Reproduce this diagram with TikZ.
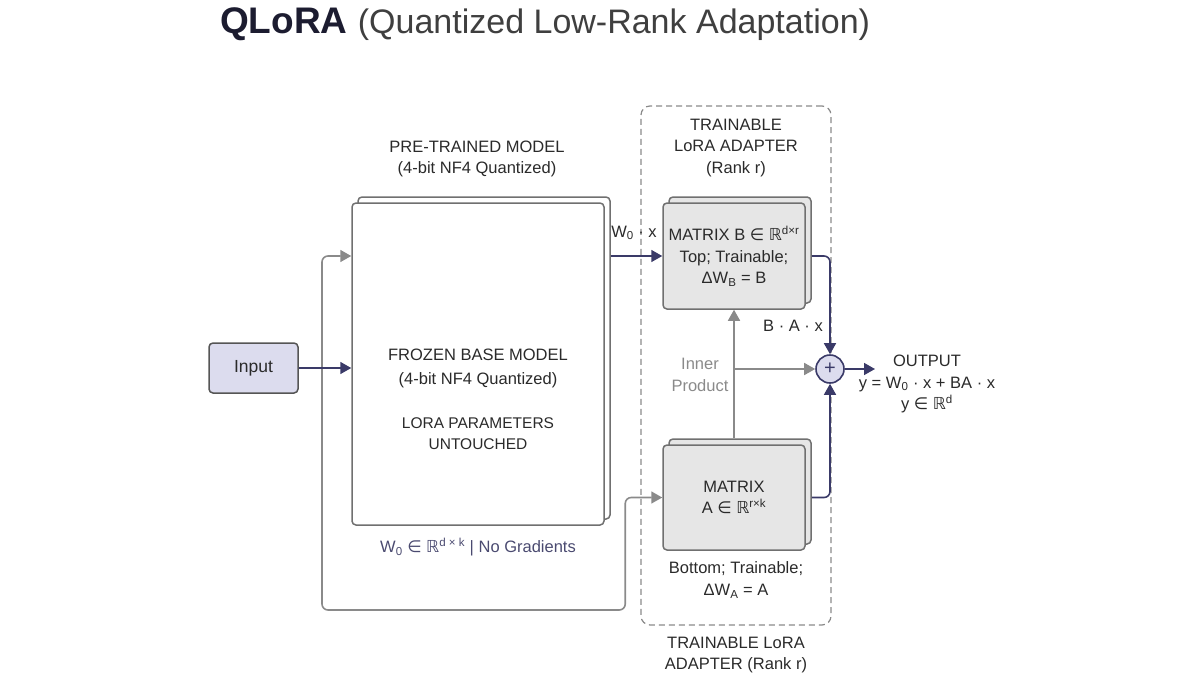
\documentclass[tikz,border=0pt]{standalone}
\usepackage{fontspec}
\setmainfont{Liberation Sans}
\newfontfamily\symf{DejaVu Sans}
\usetikzlibrary{arrows.meta,shadows}
\definecolor{navy}{HTML}{3A3A68}
\definecolor{titlenavy}{HTML}{1C1C30}
\definecolor{linegray}{HTML}{8A8A8A}
\definecolor{boxgray}{HTML}{707070}
\definecolor{lavender}{HTML}{DCDCEE}
\definecolor{matfill}{HTML}{E6E6E6}
\definecolor{textdark}{HTML}{2A2A2A}
\definecolor{softnavy}{HTML}{4A4A70}
\newcommand{\dsR}{{\symf ℝ}}
\newcommand{\elem}{{\symf ∈}}
\newcommand{\bodyfont}{\fontsize{16.5}{21.5}\selectfont}

\begin{document}
\begin{tikzpicture}[x=1pt,y=-1pt,
    every node/.style={text=textdark,font=\bodyfont,align=center},
    sheet/.style={draw=boxgray,line width=1.5pt,rounded corners=4pt,
      copy shadow={shadow xshift=6pt,shadow yshift=6pt}},
    matbox/.style={sheet,fill=matfill,minimum width=142pt,minimum height=106pt},
    navyarrow/.style={draw=navy,line width=1.6pt,rounded corners=6pt,
      -{Triangle[length=11pt,width=12pt]}},
    grayarrow/.style={draw=linegray,line width=1.6pt,rounded corners=6pt,
      -{Triangle[length=11pt,width=12pt]}}]
  \useasboundingbox (0,0) rectangle (1200,675);
  % title
  \node[anchor=base west,inner sep=0pt] (title) at (220,33)
    {\fontsize{37}{40}\selectfont\bfseries\color{titlenavy}QLoRA
     \fontsize{34}{40}\mdseries\color{textdark!90}(Quantized Low-Rank Adaptation)};
  % frozen model
  \node[draw=textdark!80,line width=1.5pt,fill=lavender,rounded corners=4pt,
    minimum width=89pt,minimum height=50pt,font=\fontsize{17.5}{21}\selectfont] (input) at (253.5,368) {Input};
  \node[sheet,fill=white,minimum width=252pt,minimum height=322pt] (frozen) at (478,364) {};
  \node (pretrained) at (477,159) {PRE-TRAINED MODEL\\(4-bit NF4 Quantized)};
  \node[font=\fontsize{16.5}{24}\selectfont] (frozentext) at (478,368)
    {FROZEN BASE MODEL\\(4-bit NF4 Quantized)};
  \node[font=\fontsize{15.5}{21}\selectfont] (untouched) at (478,434)
    {LORA PARAMETERS\\UNTOUCHED};
  \node[text=softnavy] (w0) at (478,547)
    {W\textsubscript{0} \elem\ \dsR\textsuperscript{d × k} | No Gradients};
  % adapter
  \node[draw=linegray,dash pattern=on 6pt off 4pt,line width=1.2pt,rounded corners=9pt,
    minimum width=190pt,minimum height=519pt] (adapter) at (736,365.5) {};
  \node (toplabel) at (736,148) {TRAINABLE\\LoRA ADAPTER\\(Rank r)};
  \node[matbox] (matB) at (734,256)
    {MATRIX B \elem\ \dsR\textsuperscript{d×r}\\Top; Trainable;\\ΔW\textsubscript{B} = B};
  \node[matbox,minimum height=105pt] (matA) at (734,497.5)
    {MATRIX\\A \elem\ \dsR\textsuperscript{r×k}};
  \node (bottomnote) at (736,580) {Bottom; Trainable;\\ΔW\textsubscript{A} = A};
  \node (bottomlabel) at (736,655) {TRAINABLE LoRA\\ADAPTER (Rank r)};
  \node[circle,draw=navy,fill=lavender,line width=1.6pt,minimum size=28pt,
    inner sep=0pt,text=navy,font=\fontsize{20}{20}\selectfont] (plus) at (830,369) {+};
  \node (output) at (927,384)
    {OUTPUT\\y = W\textsubscript{0} · x + BA · x\\y \elem\ \dsR\textsuperscript{d}};
  \node (bax) at (793,326) {B · A · x};
  \node (w0x) at (634,233) {W\textsubscript{0} · x};
  \node[text=linegray] (inner) at (700,375) {Inner\\Product};
  \coordinate (split) at (322,368);
  \coordinate (out) at (875,369);
  % connectors
  \draw[grayarrow] (split) |- (frozen.west |- matB);
  \draw[grayarrow] (split) -- ++(0,242) -| ([xshift=-37pt]matA.west) -- (matA.west);
  \draw[navyarrow] (input.east) -- (input.east -| frozen.west);
  \draw[navyarrow] ([xshift=6pt]frozen.east |- matB) -- (matB.west);
  \draw[grayarrow] ([yshift=6pt]matA.north) -- (matB.south);
  \draw[grayarrow] (matA.north |- plus) -- (plus.west);
  \draw[navyarrow] ([xshift=6pt]matB.east) -| (plus.north);
  \draw[navyarrow] ([xshift=6pt]matA.east) -| (plus.south);
  \draw[navyarrow] (plus.east) -- (out);
\end{tikzpicture}
\end{document}
